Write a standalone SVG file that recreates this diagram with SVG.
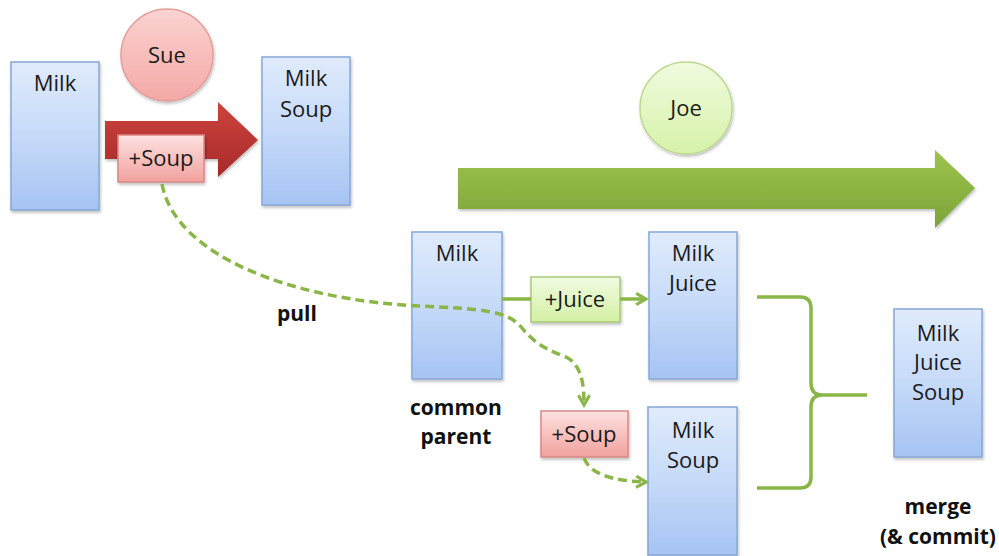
<svg xmlns="http://www.w3.org/2000/svg" width="999" height="556" viewBox="0 0 999 556">
<defs>
<linearGradient id="gBlue" x1="0" y1="0" x2="0" y2="1"><stop offset="0" stop-color="#e0ebfc"/><stop offset="0.5" stop-color="#c6daf9"/><stop offset="1" stop-color="#a6c3f3"/></linearGradient>
<linearGradient id="gRed" x1="0" y1="0" x2="0" y2="1"><stop offset="0" stop-color="#fde2e0"/><stop offset="1" stop-color="#f1a19e"/></linearGradient>
<linearGradient id="gGreen" x1="0" y1="0" x2="0" y2="1"><stop offset="0" stop-color="#f1fbe1"/><stop offset="1" stop-color="#d3f0a3"/></linearGradient>
<linearGradient id="gSue" x1="0" y1="0" x2="0" y2="1"><stop offset="0" stop-color="#fbd3d1"/><stop offset="1" stop-color="#f4a9a6"/></linearGradient>
<linearGradient id="gJoe" x1="0" y1="0" x2="0" y2="1"><stop offset="0" stop-color="#f0fbdf"/><stop offset="1" stop-color="#d6f2a9"/></linearGradient>
<linearGradient id="gRedArrow" x1="0" y1="0" x2="0" y2="1"><stop offset="0" stop-color="#cd443d"/><stop offset="1" stop-color="#a8292a"/></linearGradient>
<linearGradient id="gGreenArrow" x1="0" y1="0" x2="0" y2="1"><stop offset="0" stop-color="#9dc44b"/><stop offset="1" stop-color="#7ca43a"/></linearGradient>
<filter id="sh" x="-10%" y="-10%" width="130%" height="130%"><feDropShadow dx="1" dy="2" stdDeviation="1.5" flood-color="#000" flood-opacity="0.25"/></filter>
<marker id="arr" viewBox="0 0 10 10" refX="8" refY="5" markerWidth="4" markerHeight="4" orient="auto" markerUnits="strokeWidth">
<path d="M1,1 L8,5 L1,9" fill="none" stroke="#8ab648" stroke-width="2.2" stroke-linejoin="miter"/>
</marker>
</defs>
<style>
.box{fill:url(#gBlue);stroke:#86a7d6;stroke-width:1.5;filter:url(#sh)}
.rbox{fill:url(#gRed);stroke:#d98885;stroke-width:1.5;filter:url(#sh)}
.gbox{fill:url(#gGreen);stroke:#a8c97a;stroke-width:1.5;filter:url(#sh)}
.t{font-family:"Open Sans","Liberation Sans",sans-serif;font-size:22px;fill:#1a1a1a;text-anchor:middle}
.b{font-family:"Open Sans","Liberation Sans",sans-serif;font-size:21px;font-weight:bold;fill:#111;text-anchor:middle}
.dash{fill:none;stroke:#8ab648;stroke-width:3.5;stroke-dasharray:9 5}
.solid{fill:none;stroke:#8ab648;stroke-width:3.5}
</style>

<g id="sue-arrow"><polygon points="105,121 218,121 218,102 258,140 218,177 218,159 105,159" fill="url(#gRedArrow)" filter="url(#sh)"/></g>
<g id="joe-arrow"><polygon points="458,168 935,168 935,150 975,188 935,228 935,209 458,209" fill="url(#gGreenArrow)" filter="url(#sh)"/></g>

<g id="sue"><circle cx="167" cy="55" r="46" fill="url(#gSue)" stroke="#e39d9a" stroke-width="1.5" filter="url(#sh)"/><text class="t" x="167" y="63">Sue</text></g>
<g id="joe"><circle cx="686" cy="108" r="46" fill="url(#gJoe)" stroke="#bcd98f" stroke-width="1.5" filter="url(#sh)"/><text class="t" x="686" y="116">Joe</text></g>

<g id="milk1"><rect class="box" x="11" y="62" width="88" height="148"/><text class="t" x="55" y="91">Milk</text></g>
<g id="milksoup1"><rect class="box" x="262" y="57" width="88" height="148"/><text class="t" x="306" y="86">Milk</text><text class="t" x="306" y="117">Soup</text></g>
<g id="soup1"><rect class="rbox" x="118" y="135" width="86" height="47"/><text class="t" x="161" y="166">+Soup</text></g>

<g id="milk2"><rect class="box" x="412" y="232" width="90" height="147"/><text class="t" x="457" y="261">Milk</text></g>
<g id="juice"><rect class="gbox" x="531" y="277" width="89" height="45"/><text class="t" x="575" y="307">+Juice</text></g>
<g id="milkjuice"><rect class="box" x="649" y="232" width="88" height="147"/><text class="t" x="693" y="261">Milk</text><text class="t" x="693" y="291">Juice</text></g>
<g id="soup2"><rect class="rbox" x="541" y="411" width="87" height="46"/><text class="t" x="584" y="442">+Soup</text></g>
<g id="milksoup2"><rect class="box" x="648" y="407" width="89" height="148"/><text class="t" x="693" y="438">Milk</text><text class="t" x="693" y="468">Soup</text></g>
<g id="merge"><rect class="box" x="894" y="309" width="88" height="148"/><text class="t" x="938" y="341">Milk</text><text class="t" x="938" y="370">Juice</text><text class="t" x="938" y="400">Soup</text></g>

<g id="connectors">
<path class="dash" d="M162,184 C175,255 290,300 420,306 C485,309 508,311 522,328 C536,345 548,350 566,357 C582,365 584,385 584,405" marker-end="url(#arr)"/>
<path class="dash" d="M584,458 C590,474 612,481 646,482" marker-end="url(#arr)"/>
<path class="solid" d="M502,299 H531"/>
<path class="solid" d="M620,299 H646" marker-end="url(#arr)"/>
<path class="solid" d="M757,297 H800 Q811,297 811,308 V383 Q811,395 822,395 Q811,395 811,407 V477 Q811,488 800,488 H757"/>
<path class="solid" d="M822,395 H867"/>
</g>

<g id="labels">
<text class="b" x="297" y="321">pull</text>
<text class="b" x="456" y="415">common</text>
<text class="b" x="456" y="444">parent</text>
<text class="b" x="938" y="514">merge</text>
<text class="b" x="938" y="544">(&amp; commit)</text>
</g>
</svg>
